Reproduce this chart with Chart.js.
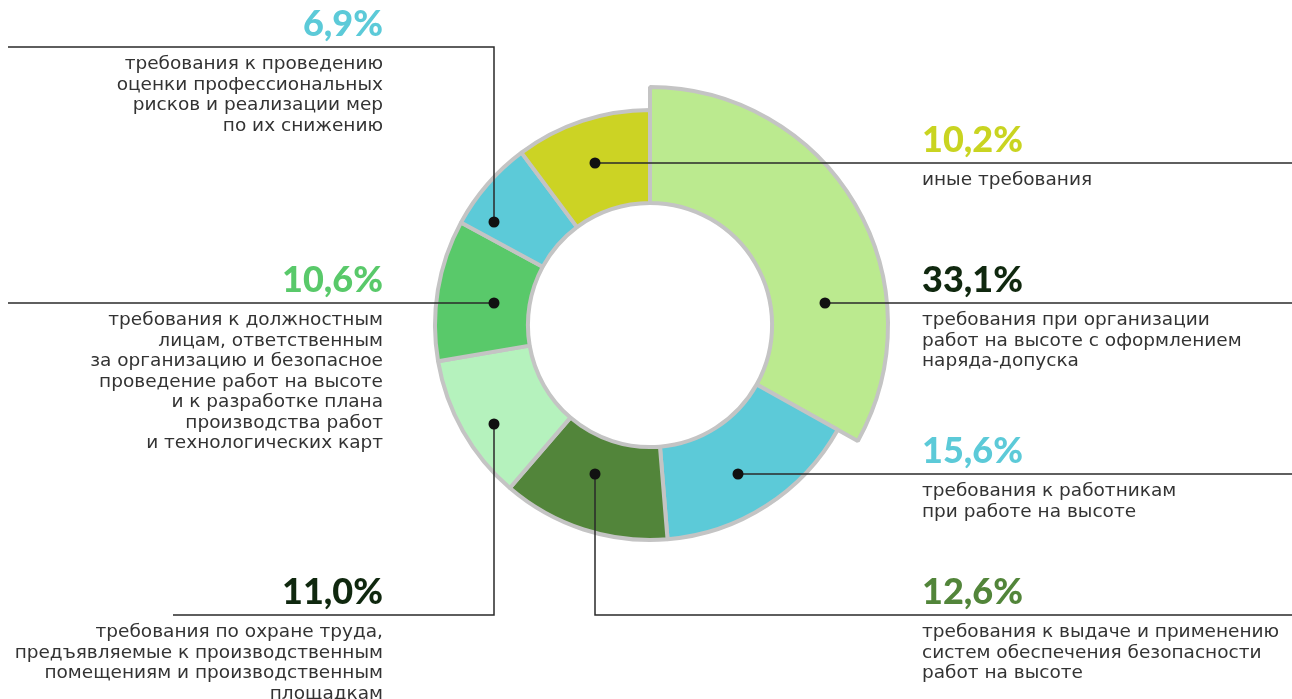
<!DOCTYPE html>
<html>
<head>
<meta charset="utf-8">
<script src="https://cdn.jsdelivr.net/npm/chart.js@4.4.1/dist/chart.umd.min.js"></script>
<style>
  html, body { margin: 0; padding: 0; background: #fff; }
  #wrap { width: 1292px; height: 699px; position: relative; }
</style>
</head>
<body>
<div id="wrap"><canvas id="graph"></canvas></div>
<script>
// Data
const percents = [33.1, 15.6, 12.6, 11.0, 10.6, 6.9, 10.2];
const percentLabels = ['33,1%', '15,6%', '12,6%', '11,0%', '10,6%', '6,9%', '10,2%'];
const descriptions = [
    ['требования при организации', 'работ на высоте с оформлением', 'наряда-допуска'],
    ['требования к работникам', 'при работе на высоте'],
    ['требования к выдаче и применению', 'систем обеспечения безопасности', 'работ на высоте'],
    ['требования по охране труда,', 'предъявляемые к производственным', 'помещениям и производственным', 'площадкам'],
    ['требования к должностным', 'лицам, ответственным', 'за организацию и безопасное', 'проведение работ на высоте', 'и к разработке плана', 'производства работ', 'и технологических карт'],
    ['требования к проведению', 'оценки профессиональных', 'рисков и реализации мер', 'по их снижению'],
    ['иные требования']
];
const sliceColors = ['#bbea8f', '#5ccad8', '#52853a', '#b5f2bd', '#59c96a', '#5ccad8', '#ccd324'];
const labelColors = ['#10280f', '#5ccad8', '#52853a', '#10280f', '#59c96a', '#5ccad8', '#c9d421'];

// Callout layout: leader line path (dot first), text anchor x and side
const callouts = [
    { path: [[825, 303], [1292, 303]], x: 922, align: 'left' },
    { path: [[738, 474], [1292, 474]], x: 922, align: 'left' },
    { path: [[595, 474], [595, 615], [1292, 615]], x: 922, align: 'left' },
    { path: [[494, 424], [494, 615], [173, 615]], x: 383, align: 'right' },
    { path: [[494, 303], [8, 303]], x: 383, align: 'right' },
    { path: [[494, 222], [494, 47], [8, 47]], x: 383, align: 'right' },
    { path: [[595, 163], [1292, 163]], x: 922, align: 'left' }
];

const bigRadius = 238;
const ringRadius = 215;

// first slice sticks out further than the rest
const outerPlugin = {
    id: 'outer',
    afterDatasetsUpdate(chart) {
        const meta = chart.getDatasetMeta(0);
        meta.data.forEach((arc, i) => {
            if (i !== 0) arc.outerRadius = ringRadius;
        });
    }
};

const calloutPlugin = {
    id: 'callouts',
    afterDatasetsDraw(chart) {
        const ctx = chart.ctx;
        ctx.save();
        callouts.forEach((c, i) => {
            const p = c.path;
            const lineY = p[p.length - 1][1];
            // leader line
            ctx.strokeStyle = '#2a2a2a';
            ctx.lineWidth = 1.5;
            ctx.beginPath();
            ctx.moveTo(p[0][0], p[0][1]);
            for (let k = 1; k < p.length; k++) ctx.lineTo(p[k][0], p[k][1]);
            ctx.stroke();
            // dot
            ctx.fillStyle = '#111';
            ctx.beginPath();
            ctx.arc(p[0][0], p[0][1], 5.5, 0, Math.PI * 2);
            ctx.fill();
            // percent
            ctx.textAlign = c.align;
            ctx.textBaseline = 'alphabetic';
            ctx.fillStyle = labelColors[i];
            ctx.font = '900 36px Lato';
            ctx.fillText(percentLabels[i], c.x, lineY - 11);
            // description
            ctx.fillStyle = '#333';
            ctx.font = '18.5px "DejaVu Sans"';
            descriptions[i].forEach((line, j) => {
                ctx.fillText(line, c.x, lineY + 22 + j * 20.5);
            });
        });
        ctx.restore();
    }
};

const ctx = document.getElementById('graph').getContext('2d');
new Chart(ctx, {
    type: 'doughnut',
    data: {
        labels: percentLabels,
        datasets: [{
            data: percents,
            backgroundColor: sliceColors,
            borderColor: '#c4c4c4',
            borderWidth: 4
        }]
    },
    options: {
        responsive: true,
        maintainAspectRatio: false,
        animation: false,
        radius: bigRadius,
        cutout: '51.3%',
        layout: { padding: { left: 8, right: 0, top: 0, bottom: 49 } },
        plugins: {
            legend: { display: false },
            tooltip: { enabled: false }
        }
    },
    plugins: [outerPlugin, calloutPlugin]
});
</script>
</body>
</html>
